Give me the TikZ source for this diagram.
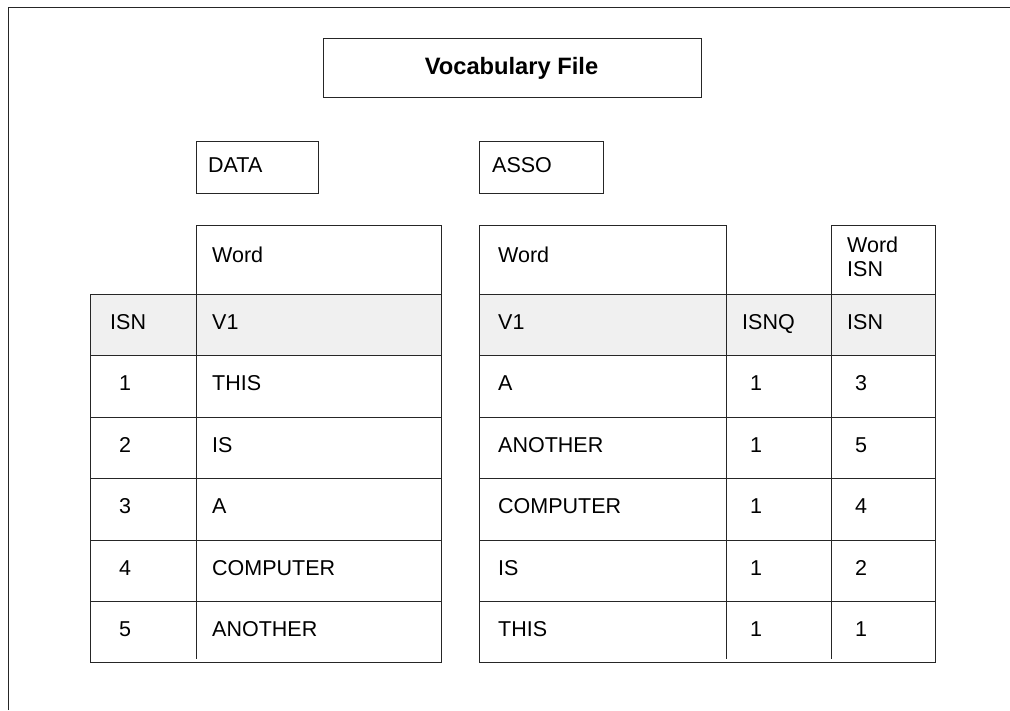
\documentclass[tikz,border=0pt]{standalone}
\usepackage{fontspec}
\setmainfont{Liberation Sans}
\begin{document}
\begin{tikzpicture}[x=1pt,y=-1pt,
  txt/.style={anchor=base west, inner sep=0pt, font=\fontsize{21.5}{24}\selectfont},
  ttl/.style={anchor=base, inner sep=0pt, font=\bfseries\fontsize{23.7}{28}\selectfont},
  rule/.style={draw=black!85, line width=1pt},
  hdrfill/.style={fill=black!6}]
\useasboundingbox (0,0) rectangle (1010,710);

% page frame (top and left edges)
\draw[rule, line width=1.3pt] (8.5,710) -- (8.5,7.5) -- (1010,7.5);

% title box
\draw[rule] (323,38) rectangle (701,97);
\node[ttl] (title) at (511.5,74) {Vocabulary File};

% file labels
\draw[rule] (196,141) rectangle (318,193);
\node[txt] (data) at (208,172) {DATA};
\draw[rule] (479,141) rectangle (603,193);
\node[txt] (asso) at (492,172) {ASSO};

% ---------- DATA table ----------
\fill[hdrfill] (90,294) rectangle (441,355.5);
\draw[rule] (196,225) rectangle (441,294);
\node[txt] (dword) at (212,262) {Word};
\draw[rule] (90,294) rectangle (441,662);
\foreach \y in {355.5,417,478.5,540,601.5}
  \draw[rule] (90,\y) -- (441,\y);
\draw[rule] (196,294) -- (196,659);
\node[txt] (disn) at (110,329) {ISN};
\node[txt] (dv1) at (212,329) {V1};
\foreach \n/\w [count=\i] in {1/THIS,2/IS,3/A,4/COMPUTER,5/ANOTHER} {
  \node[txt] (dn\i) at (119,{294+61.5*\i+35}) {\n};
  \node[txt] (dw\i) at (212,{294+61.5*\i+35}) {\w};
}

% ---------- ASSO table ----------
\fill[hdrfill] (479,294) rectangle (935,355.5);
\draw[rule] (479,225) rectangle (726,294);
\draw[rule] (831,225) rectangle (935,294);
\node[txt] (aword) at (498,262) {Word};
\node[txt, anchor=north west, align=left] (awisn) at (847,237) {Word\\ISN};
\draw[rule] (479,294) rectangle (935,662);
\foreach \y in {355.5,417,478.5,540,601.5}
  \draw[rule] (479,\y) -- (935,\y);
\draw[rule] (726,294) -- (726,659);
\draw[rule] (831,294) -- (831,659);
\node[txt] (av1) at (498,329) {V1};
\node[txt] (aisnq) at (742,329) {ISNQ};
\node[txt] (aisn) at (847,329) {ISN};
\foreach \w/\q/\n [count=\i] in {A/1/3,ANOTHER/1/5,COMPUTER/1/4,IS/1/2,THIS/1/1} {
  \node[txt] (aw\i) at (498,{294+61.5*\i+35}) {\w};
  \node[txt] (aq\i) at (750,{294+61.5*\i+35}) {\q};
  \node[txt] (an\i) at (855,{294+61.5*\i+35}) {\n};
}
\end{tikzpicture}
\end{document}
